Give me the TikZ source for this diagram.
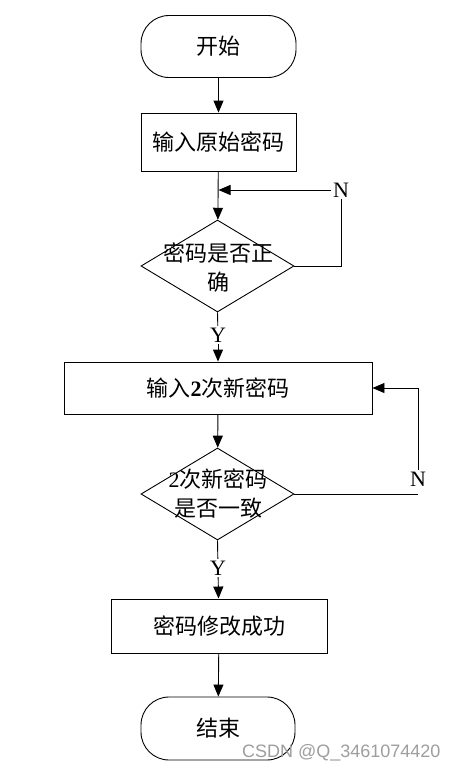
\documentclass[tikz,border=0pt]{standalone}
\usepackage{fontspec}
\setmainfont{Liberation Serif}
\newfontfamily\cjk{Noto Sans CJK SC}
\newfontfamily\wmfont{Liberation Sans}
\usetikzlibrary{arrows.meta,shapes.geometric}
\begin{document}
\begin{tikzpicture}[x=1pt,y=-1pt,
  line width=0.9pt,
  base/.style={draw, inner sep=0pt, font=\cjk\fontsize{22}{28}\selectfont, align=center},
  term/.style={base, rounded corners=28pt},
  proc/.style={base},
  dec/.style={draw, diamond, inner sep=0pt, minimum width=153pt, minimum height=92pt},
  dectext/.style={font=\cjk\fontsize{22}{29}\selectfont, align=center, inner sep=0pt},
  lbl/.style={font=\fontsize{22}{24}\selectfont, inner sep=1.5pt},
  arr/.style={-{Triangle[length=12pt,width=10pt]}}]
\useasboundingbox (0,0) rectangle (457,772);
\fill[white] (0,0) rectangle (457,772);

\node[term, minimum width=155pt, minimum height=62pt] (start) at (218.5,46.5) {开始};
\node[proc, minimum width=155pt, minimum height=58pt] (b1) at (218.5,142) {输入原始密码};
\node[dec] (d1) at (217.5,266) {};
\node[dectext] (d1t) at (218,268) {密码是否正\\确};
\node[lbl] (y1) at (218,335) {Y};
\node[proc, minimum width=308pt, minimum height=52pt] (b2) at (218,388) {输入{\rmfamily\bfseries 2}次新密码};
\node[dec] (d2) at (217.5,494) {};
\node[dectext] (d2t) at (218,494) {{\rmfamily 2}次新密码\\是否一致};
\node[lbl] (y2) at (218,568) {Y};
\node[proc, minimum width=216pt, minimum height=54pt] (b3) at (219,626) {密码修改成功};
\node[term, minimum width=154pt, minimum height=63pt] (stop) at (218,728.5) {结束};

\node[lbl] (n1) at (341,190) {N};
\node[lbl] (n2) at (418,479) {N};
\coordinate (j1) at (b1.south |- n1);
\coordinate (c1) at (d1.east -| n1);
\coordinate (c2) at (d2.east -| n2);

\draw[arr] (start) -- (b1);
\draw[arr] (b1) -- (d1);
\draw (d1.east) -- (c1) -- (n1.south);
\draw[arr] (n1.west) -- (j1);
\draw (d1.south) -- (y1);
\draw[arr] (y1) -- (b2);
\draw[arr] (b2) -- (d2);
\draw (d2.east) -- (c2);
\draw[arr] (n2.north) |- (b2.east);
\draw (d2.south) -- (y2);
\draw[arr] (y2) -- (b3);
\draw[arr] (b3) -- (stop);

\node[font=\wmfont\fontsize{18}{20}\selectfont, text=black!38, anchor=east, inner sep=0pt] (wm) at (441,753) {CSDN @Q\_3461074420};
\end{tikzpicture}
\end{document}
